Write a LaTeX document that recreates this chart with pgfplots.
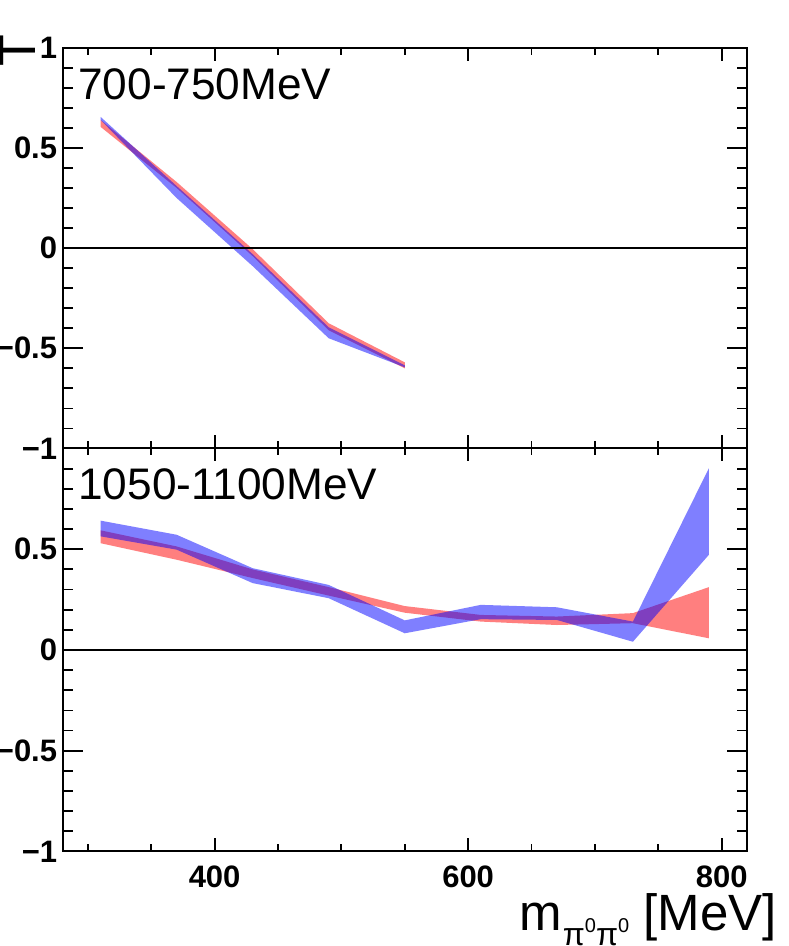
\documentclass[border=0pt]{standalone}
\usepackage{fontspec}
\setmainfont{Liberation Sans}
\usepackage{pgfplots}
\pgfplotsset{compat=1.18}
\usepackage{pgfplotstable}
\usepgfplotslibrary{fillbetween}

\pgfplotstableread{
x lo hi
310 0.605 0.640
370 0.300 0.330
430 -0.040 -0.005
490 -0.410 -0.375
550 -0.600 -0.570
}\topred
\pgfplotstableread{
x lo hi
310 0.640 0.655
370 0.250 0.310
430 -0.090 -0.030
490 -0.450 -0.395
550 -0.595 -0.585
}\topblue
\pgfplotstableread{
x lo hi
310 0.530 0.594
370 0.448 0.514
430 0.357 0.400
490 0.270 0.312
550 0.185 0.218
610 0.141 0.174
670 0.124 0.166
730 0.133 0.183
790 0.058 0.312
}\botred
\pgfplotstableread{
x lo hi
310 0.564 0.642
370 0.498 0.572
430 0.332 0.406
490 0.257 0.323
550 0.083 0.147
610 0.153 0.224
670 0.149 0.212
730 0.041 0.141
790 0.473 0.903
}\botblue

\begin{document}
\begin{tikzpicture}
\pgfplotsset{
  panel/.style={
    scale only axis, width=342.25pt,
    xmin=280, xmax=820, ymin=-1, ymax=1,
    xtick={400,600,800},
    minor xtick={300,350,450,500,550,650,700,750},
    ytick={-1,-0.5,0,0.5,1},
    minor ytick={-0.9,-0.8,-0.7,-0.6,-0.4,-0.3,-0.2,-0.1,0.1,0.2,0.3,0.4,0.6,0.7,0.8,0.9},
    axis line style={line width=1pt, black},
    tick style={line width=0.9pt, black},
    major tick length=10pt, minor tick length=5pt,
    xtick style={/pgfplots/major tick length=6.5pt,/pgfplots/minor tick length=3.5pt},
    ticklabel style={font=\fontsize{15.5}{15.5}\selectfont\bfseries, inner sep=0pt},
    yticklabel style={anchor=east, xshift=-2.5pt},
    xticklabel style={anchor=north, yshift=-6.75pt},
  },
}
% top panel
\begin{axis}[panel, height=200.4pt, at={(31.25pt,248.75pt)}, anchor=south west,
  xticklabels={}, yticklabels={−1,−0.5,0,0.5,1}]
  \addplot[draw=none, name path=rh] table[x=x,y=hi]{\topred};
  \addplot[draw=none, name path=rl] table[x=x,y=lo]{\topred};
  \addplot[fill=red, fill opacity=0.5, draw=none] fill between[of=rh and rl];
  \addplot[draw=none, name path=bh] table[x=x,y=hi]{\topblue};
  \addplot[draw=none, name path=bl] table[x=x,y=lo]{\topblue};
  \addplot[fill=blue, fill opacity=0.5, draw=none] fill between[of=bh and bl];
  \addplot[black, line width=0.7pt] coordinates {(280,0) (820,0)};
\end{axis}
% bottom panel
\begin{axis}[panel, height=201.5pt, at={(31.25pt,47.25pt)}, anchor=south west,
  xticklabels={400,600,800}, yticklabels={−1,−0.5,0,0.5,{}}]
  \addplot[draw=none, name path=rh] table[x=x,y=hi]{\botred};
  \addplot[draw=none, name path=rl] table[x=x,y=lo]{\botred};
  \addplot[fill=red, fill opacity=0.5, draw=none] fill between[of=rh and rl];
  \addplot[draw=none, name path=bh] table[x=x,y=hi]{\botblue};
  \addplot[draw=none, name path=bl] table[x=x,y=lo]{\botblue};
  \addplot[fill=blue, fill opacity=0.5, draw=none] fill between[of=bh and bl];
  \addplot[black, line width=0.7pt] coordinates {(280,0) (820,0)};
\end{axis}
\node[anchor=base west, inner sep=0pt, font=\fontsize{22.1}{22.1}\selectfont] at (39pt,423pt) {700-750MeV};
\node[anchor=base west, inner sep=0pt, font=\fontsize{22.1}{22.1}\selectfont] at (39pt,223pt) {1050-1100MeV};
\node[anchor=base east, inner sep=0pt, font=\fontsize{25.5}{25.5}\selectfont] at (388.5pt,8pt)
  {m\hspace{0.5pt}\raisebox{-7.5pt}{\fontsize{16}{16}\selectfont π\raisebox{6pt}{\fontsize{10}{10}\selectfont 0}π\raisebox{6pt}{\fontsize{10}{10}\selectfont 0}} [MeV]};
\node[rotate=90, anchor=base, inner sep=0pt, font=\fontsize{26}{26}\selectfont] at (17.75pt,447.75pt) {T};
\pgfresetboundingbox
\useasboundingbox (0,0) rectangle (394pt,473pt);
\end{tikzpicture}
\end{document}
